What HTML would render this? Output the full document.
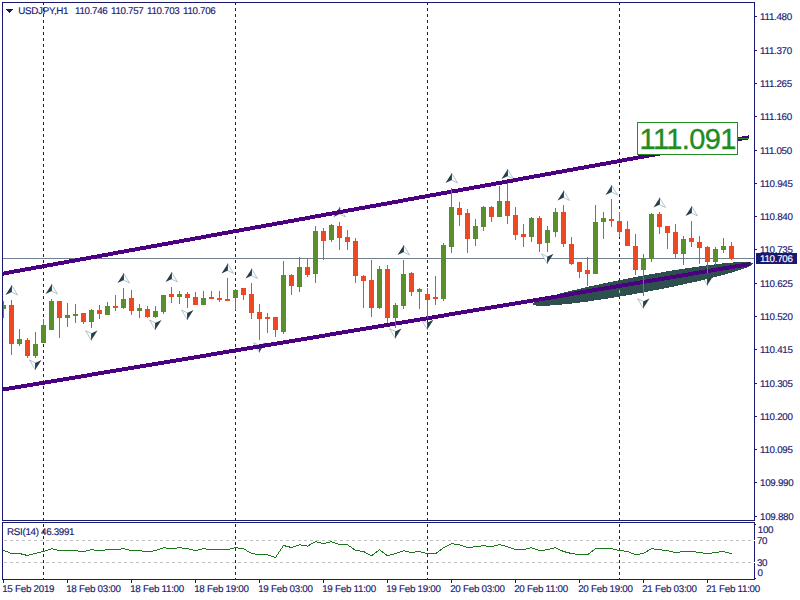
<!DOCTYPE html><html><head><meta charset="utf-8"><title>USDJPY,H1</title><style>
html,body{margin:0;padding:0;background:#fff;}
body{width:800px;height:600px;position:relative;overflow:hidden;font-family:"Liberation Sans",sans-serif;}
.t{position:absolute;white-space:nowrap;font-size:9.8px;line-height:10px;letter-spacing:-0.32px;text-rendering:geometricPrecision;-webkit-text-stroke:0.15px;color:#191970;}
.big{position:absolute;white-space:nowrap;font-size:29px;line-height:29px;color:#228b22;letter-spacing:-0.62px;-webkit-text-stroke:0.35px;}
</style></head><body>
<svg width="800" height="600" viewBox="0 0 800 600" shape-rendering="crispEdges" style="position:absolute;left:0;top:0">
<defs><clipPath id="cm"><rect x="3" y="3" width="751" height="517"/></clipPath>
<clipPath id="cr"><rect x="3" y="523" width="751" height="56"/></clipPath></defs>
<line x1="43.5" y1="2" x2="43.5" y2="520" stroke="#191970" stroke-width="1" stroke-dasharray="3 3"/>
<line x1="43.5" y1="524" x2="43.5" y2="579" stroke="#191970" stroke-width="1" stroke-dasharray="3 3"/>
<line x1="235.5" y1="2" x2="235.5" y2="520" stroke="#191970" stroke-width="1" stroke-dasharray="3 3"/>
<line x1="235.5" y1="524" x2="235.5" y2="579" stroke="#191970" stroke-width="1" stroke-dasharray="3 3"/>
<line x1="427.5" y1="2" x2="427.5" y2="520" stroke="#191970" stroke-width="1" stroke-dasharray="3 3"/>
<line x1="427.5" y1="524" x2="427.5" y2="579" stroke="#191970" stroke-width="1" stroke-dasharray="3 3"/>
<line x1="619.5" y1="2" x2="619.5" y2="520" stroke="#191970" stroke-width="1" stroke-dasharray="3 3"/>
<line x1="619.5" y1="524" x2="619.5" y2="579" stroke="#191970" stroke-width="1" stroke-dasharray="3 3"/>
<rect x="3" y="258" width="751" height="1" fill="#708090"/>
<g shape-rendering="geometricPrecision">
<polygon points="11.5,285 17.5,295 11.5,292" fill="#fff" stroke="#9fb4c8" stroke-width="0.8"/><polygon points="11.9,285 5.5,295 11.9,292" fill="#243f45"/>
<polygon points="51.5,284 57.5,294 51.5,291" fill="#fff" stroke="#9fb4c8" stroke-width="0.8"/><polygon points="51.9,284 45.5,294 51.9,291" fill="#243f45"/>
<polygon points="123.5,273 129.5,283 123.5,280" fill="#fff" stroke="#9fb4c8" stroke-width="0.8"/><polygon points="123.9,273 117.5,283 123.9,280" fill="#243f45"/>
<polygon points="171.5,272 177.5,282 171.5,279" fill="#fff" stroke="#9fb4c8" stroke-width="0.8"/><polygon points="171.9,272 165.5,282 171.9,279" fill="#243f45"/>
<polygon points="227.5,263.4 233.5,273.4 227.5,270.4" fill="#fff" stroke="#9fb4c8" stroke-width="0.8"/><polygon points="227.9,263.4 221.5,273.4 227.9,270.4" fill="#243f45"/>
<polygon points="251.5,268.6 257.5,278.6 251.5,275.6" fill="#fff" stroke="#9fb4c8" stroke-width="0.8"/><polygon points="251.9,268.6 245.5,278.6 251.9,275.6" fill="#243f45"/>
<polygon points="339.5,207 345.5,217 339.5,214" fill="#fff" stroke="#9fb4c8" stroke-width="0.8"/><polygon points="339.9,207 333.5,217 339.9,214" fill="#243f45"/>
<polygon points="403.5,245 409.5,255 403.5,252" fill="#fff" stroke="#9fb4c8" stroke-width="0.8"/><polygon points="403.9,245 397.5,255 403.9,252" fill="#243f45"/>
<polygon points="451.5,173 457.5,183 451.5,180" fill="#fff" stroke="#9fb4c8" stroke-width="0.8"/><polygon points="451.9,173 445.5,183 451.9,180" fill="#243f45"/>
<polygon points="507.5,169 513.5,179 507.5,176" fill="#fff" stroke="#9fb4c8" stroke-width="0.8"/><polygon points="507.9,169 501.5,179 507.9,176" fill="#243f45"/>
<polygon points="563.5,190.5 569.5,200.5 563.5,197.5" fill="#fff" stroke="#9fb4c8" stroke-width="0.8"/><polygon points="563.9,190.5 557.5,200.5 563.9,197.5" fill="#243f45"/>
<polygon points="611.5,185 617.5,195 611.5,192" fill="#fff" stroke="#9fb4c8" stroke-width="0.8"/><polygon points="611.9,185 605.5,195 611.9,192" fill="#243f45"/>
<polygon points="659.5,197.5 665.5,207.5 659.5,204.5" fill="#fff" stroke="#9fb4c8" stroke-width="0.8"/><polygon points="659.9,197.5 653.5,207.5 659.9,204.5" fill="#243f45"/>
<polygon points="691.5,206 697.5,216 691.5,213" fill="#fff" stroke="#9fb4c8" stroke-width="0.8"/><polygon points="691.9,206 685.5,216 691.9,213" fill="#243f45"/>
<polygon points="35.5,370 29.5,360 35.5,363" fill="#fff" stroke="#9fb4c8" stroke-width="0.8"/><polygon points="35.1,370 41.5,360 35.1,363" fill="#243f45"/>
<polygon points="91.5,340.6 85.5,330.6 91.5,333.6" fill="#fff" stroke="#9fb4c8" stroke-width="0.8"/><polygon points="91.1,340.6 97.5,330.6 91.1,333.6" fill="#243f45"/>
<polygon points="155.5,330 149.5,320 155.5,323" fill="#fff" stroke="#9fb4c8" stroke-width="0.8"/><polygon points="155.1,330 161.5,320 155.1,323" fill="#243f45"/>
<polygon points="187.5,320 181.5,310 187.5,313" fill="#fff" stroke="#9fb4c8" stroke-width="0.8"/><polygon points="187.1,320 193.5,310 187.1,313" fill="#243f45"/>
<polygon points="259.5,352.6 253.5,342.6 259.5,345.6" fill="#fff" stroke="#9fb4c8" stroke-width="0.8"/><polygon points="259.1,352.6 265.5,342.6 259.1,345.6" fill="#243f45"/>
<polygon points="395.5,338.6 389.5,328.6 395.5,331.6" fill="#fff" stroke="#9fb4c8" stroke-width="0.8"/><polygon points="395.1,338.6 401.5,328.6 395.1,331.6" fill="#243f45"/>
<polygon points="427.5,329.8 421.5,319.8 427.5,322.8" fill="#fff" stroke="#9fb4c8" stroke-width="0.8"/><polygon points="427.1,329.8 433.5,319.8 427.1,322.8" fill="#243f45"/>
<polygon points="547.5,263.8 541.5,253.8 547.5,256.8" fill="#fff" stroke="#9fb4c8" stroke-width="0.8"/><polygon points="547.1,263.8 553.5,253.8 547.1,256.8" fill="#243f45"/>
<polygon points="643.5,308.6 637.5,298.6 643.5,301.6" fill="#fff" stroke="#9fb4c8" stroke-width="0.8"/><polygon points="643.1,308.6 649.5,298.6 643.1,301.6" fill="#243f45"/>
<polygon points="707.5,285.6 701.5,275.6 707.5,278.6" fill="#fff" stroke="#9fb4c8" stroke-width="0.8"/><polygon points="707.1,285.6 713.5,275.6 707.1,278.6" fill="#243f45"/>
<polygon points="683.5,279.5 677.5,269.5 683.5,272.5" fill="#fff" stroke="#9fb4c8" stroke-width="0.8"/><polygon points="683.1,279.5 689.5,269.5 683.1,272.5" fill="#243f45"/>
</g>
<g clip-path="url(#cm)">
<polygon points="532.5,304.0 534.7,302.0 536.9,300.9 539.1,300.1 541.3,299.2 543.5,298.5 545.7,297.8 547.9,297.1 550.1,296.4 552.3,295.8 554.5,295.1 556.8,294.5 559.0,293.9 561.2,293.3 563.4,292.8 565.6,292.2 567.8,291.6 570.0,291.1 572.2,290.5 574.4,290.0 576.6,289.5 578.8,289.0 581.0,288.4 583.2,287.9 585.4,287.4 587.6,286.9 589.8,286.4 592.0,285.9 594.2,285.4 596.4,285.0 598.6,284.5 600.9,284.0 603.1,283.5 605.3,283.1 607.5,282.6 609.7,282.2 611.9,281.7 614.1,281.3 616.3,280.8 618.5,280.4 620.7,279.9 622.9,279.5 625.1,279.1 627.3,278.6 629.5,278.2 631.7,277.8 633.9,277.3 636.1,276.9 638.3,276.5 640.5,276.1 642.8,275.7 645.0,275.3 647.2,274.9 649.4,274.5 651.6,274.1 653.8,273.7 656.0,273.3 658.2,272.9 660.4,272.6 662.6,272.2 664.8,271.8 667.0,271.4 669.2,271.1 671.4,270.7 673.6,270.3 675.8,270.0 678.0,269.6 680.2,269.3 682.4,268.9 684.6,268.6 686.9,268.2 689.1,267.9 691.3,267.6 693.5,267.3 695.7,266.9 697.9,266.6 700.1,266.3 702.3,266.0 704.5,265.7 706.7,265.4 708.9,265.1 711.1,264.8 713.3,264.6 715.5,264.3 717.7,264.0 719.9,263.8 722.1,263.5 724.3,263.3 726.5,263.1 728.7,262.9 731.0,262.7 733.2,262.5 735.4,262.3 737.6,262.2 739.8,262.0 742.0,261.9 744.2,261.9 746.4,261.9 748.6,262.0 750.8,262.2 753.0,263.4 753.0,263.4 750.8,265.6 748.6,266.7 746.4,267.6 744.2,268.5 742.0,269.3 739.8,270.0 737.6,270.7 735.4,271.4 733.2,272.1 731.0,272.7 728.7,273.4 726.5,274.0 724.3,274.6 722.1,275.2 719.9,275.8 717.7,276.3 715.5,276.9 713.3,277.5 711.1,278.0 708.9,278.6 706.7,279.1 704.5,279.6 702.3,280.1 700.1,280.7 697.9,281.2 695.7,281.7 693.5,282.2 691.3,282.7 689.1,283.2 686.9,283.6 684.6,284.1 682.4,284.6 680.2,285.1 678.0,285.5 675.8,286.0 673.6,286.5 671.4,286.9 669.2,287.4 667.0,287.8 664.8,288.3 662.6,288.7 660.4,289.1 658.2,289.6 656.0,290.0 653.8,290.4 651.6,290.8 649.4,291.3 647.2,291.7 645.0,292.1 642.8,292.5 640.5,292.9 638.3,293.3 636.1,293.7 633.9,294.1 631.7,294.5 629.5,294.9 627.3,295.3 625.1,295.6 622.9,296.0 620.7,296.4 618.5,296.8 616.3,297.1 614.1,297.5 611.9,297.8 609.7,298.2 607.5,298.5 605.3,298.9 603.1,299.2 600.9,299.6 598.6,299.9 596.4,300.2 594.2,300.5 592.0,300.9 589.8,301.2 587.6,301.5 585.4,301.8 583.2,302.1 581.0,302.4 578.8,302.6 576.6,302.9 574.4,303.2 572.2,303.5 570.0,303.7 567.8,304.0 565.6,304.2 563.4,304.4 561.2,304.6 559.0,304.8 556.8,305.0 554.5,305.2 552.3,305.4 550.1,305.5 547.9,305.6 545.7,305.7 543.5,305.8 541.3,305.8 539.1,305.8 536.9,305.7 534.7,305.3 532.5,304.0" fill="#2f4f4f"/>
<polygon points="3,271.6 749,135.3 749,139.3 3,275.6" fill="#4b0082"/>
<polygon points="3,387.55 750,262.0 750,266.0 3,391.55" fill="#4b0082"/>
<rect x="619" y="290" width="1" height="3" fill="#d8b0c0"/>
<rect x="3" y="301" width="1" height="17" fill="#588f2c"/>
<rect x="1" y="305" width="5" height="4" fill="#588f2c"/>
<rect x="11" y="300" width="1" height="55" fill="#ee4822"/>
<rect x="9" y="305" width="5" height="39" fill="#ee4822"/>
<rect x="19" y="329" width="1" height="17" fill="#588f2c"/>
<rect x="17" y="339" width="5" height="5" fill="#588f2c"/>
<rect x="27" y="338" width="1" height="20" fill="#ee4822"/>
<rect x="25" y="340" width="5" height="16" fill="#ee4822"/>
<rect x="35" y="332" width="1" height="26" fill="#588f2c"/>
<rect x="33" y="344" width="5" height="12" fill="#588f2c"/>
<rect x="43" y="319" width="1" height="24" fill="#588f2c"/>
<rect x="41" y="325" width="5" height="18" fill="#588f2c"/>
<rect x="51" y="299" width="1" height="31" fill="#588f2c"/>
<rect x="49" y="301" width="5" height="29" fill="#588f2c"/>
<rect x="59" y="301" width="1" height="37" fill="#ee4822"/>
<rect x="57" y="301" width="5" height="17" fill="#ee4822"/>
<rect x="67" y="303" width="1" height="24" fill="#588f2c"/>
<rect x="65" y="315" width="5" height="3" fill="#588f2c"/>
<rect x="75" y="304" width="1" height="19" fill="#588f2c"/>
<rect x="73" y="314" width="5" height="2" fill="#588f2c"/>
<rect x="83" y="313" width="1" height="11" fill="#ee4822"/>
<rect x="81" y="313" width="5" height="9" fill="#ee4822"/>
<rect x="91" y="309" width="1" height="19" fill="#588f2c"/>
<rect x="89" y="310" width="5" height="12" fill="#588f2c"/>
<rect x="99" y="305" width="1" height="14" fill="#ee4822"/>
<rect x="97" y="310" width="5" height="4" fill="#ee4822"/>
<rect x="107" y="302" width="1" height="13" fill="#588f2c"/>
<rect x="105" y="306" width="5" height="9" fill="#588f2c"/>
<rect x="115" y="295" width="1" height="16" fill="#ee4822"/>
<rect x="113" y="306" width="5" height="2" fill="#ee4822"/>
<rect x="123" y="288" width="1" height="21" fill="#588f2c"/>
<rect x="121" y="299" width="5" height="9" fill="#588f2c"/>
<rect x="131" y="290" width="1" height="25" fill="#ee4822"/>
<rect x="129" y="298" width="5" height="13" fill="#ee4822"/>
<rect x="139" y="304" width="1" height="14" fill="#588f2c"/>
<rect x="137" y="308" width="5" height="3" fill="#588f2c"/>
<rect x="147" y="306" width="1" height="12" fill="#ee4822"/>
<rect x="145" y="309" width="5" height="8" fill="#ee4822"/>
<rect x="155" y="306" width="1" height="12" fill="#588f2c"/>
<rect x="153" y="311" width="5" height="6" fill="#588f2c"/>
<rect x="163" y="295" width="1" height="19" fill="#588f2c"/>
<rect x="161" y="295" width="5" height="17" fill="#588f2c"/>
<rect x="171" y="287" width="1" height="16" fill="#ee4822"/>
<rect x="169" y="294" width="5" height="3" fill="#ee4822"/>
<rect x="179" y="291" width="1" height="13" fill="#588f2c"/>
<rect x="177" y="294" width="5" height="3" fill="#588f2c"/>
<rect x="187" y="292" width="1" height="16" fill="#ee4822"/>
<rect x="185" y="294" width="5" height="4" fill="#ee4822"/>
<rect x="195" y="292" width="1" height="13" fill="#ee4822"/>
<rect x="193" y="297" width="5" height="8" fill="#ee4822"/>
<rect x="203" y="291" width="1" height="14" fill="#588f2c"/>
<rect x="201" y="298" width="5" height="7" fill="#588f2c"/>
<rect x="211" y="291" width="1" height="8" fill="#ee4822"/>
<rect x="209" y="297" width="5" height="2" fill="#ee4822"/>
<rect x="219" y="291" width="1" height="11" fill="#ee4822"/>
<rect x="217" y="298" width="5" height="2" fill="#ee4822"/>
<rect x="227" y="278" width="1" height="23" fill="#ee4822"/>
<rect x="225" y="299" width="5" height="2" fill="#ee4822"/>
<rect x="235" y="289" width="1" height="21" fill="#588f2c"/>
<rect x="233" y="290" width="5" height="8" fill="#588f2c"/>
<rect x="243" y="288" width="1" height="12" fill="#ee4822"/>
<rect x="241" y="288" width="5" height="7" fill="#ee4822"/>
<rect x="251" y="283" width="1" height="36" fill="#ee4822"/>
<rect x="249" y="294" width="5" height="19" fill="#ee4822"/>
<rect x="259" y="304" width="1" height="36" fill="#ee4822"/>
<rect x="257" y="312" width="5" height="7" fill="#ee4822"/>
<rect x="267" y="313" width="1" height="20" fill="#ee4822"/>
<rect x="265" y="317" width="5" height="2" fill="#ee4822"/>
<rect x="275" y="317" width="1" height="20" fill="#ee4822"/>
<rect x="273" y="317" width="5" height="13" fill="#ee4822"/>
<rect x="283" y="261" width="1" height="73" fill="#588f2c"/>
<rect x="281" y="275" width="5" height="57" fill="#588f2c"/>
<rect x="291" y="274" width="1" height="21" fill="#ee4822"/>
<rect x="289" y="275" width="5" height="11" fill="#ee4822"/>
<rect x="299" y="257" width="1" height="35" fill="#588f2c"/>
<rect x="297" y="267" width="5" height="20" fill="#588f2c"/>
<rect x="307" y="259" width="1" height="18" fill="#ee4822"/>
<rect x="305" y="267" width="5" height="8" fill="#ee4822"/>
<rect x="315" y="226" width="1" height="57" fill="#588f2c"/>
<rect x="313" y="231" width="5" height="43" fill="#588f2c"/>
<rect x="323" y="228" width="1" height="32" fill="#ee4822"/>
<rect x="321" y="231" width="5" height="10" fill="#ee4822"/>
<rect x="331" y="224" width="1" height="18" fill="#588f2c"/>
<rect x="329" y="225" width="5" height="15" fill="#588f2c"/>
<rect x="339" y="222" width="1" height="28" fill="#ee4822"/>
<rect x="337" y="226" width="5" height="12" fill="#ee4822"/>
<rect x="347" y="230" width="1" height="20" fill="#ee4822"/>
<rect x="345" y="237" width="5" height="5" fill="#ee4822"/>
<rect x="355" y="238" width="1" height="45" fill="#ee4822"/>
<rect x="353" y="241" width="5" height="35" fill="#ee4822"/>
<rect x="363" y="275" width="1" height="33" fill="#ee4822"/>
<rect x="361" y="276" width="5" height="5" fill="#ee4822"/>
<rect x="371" y="260" width="1" height="57" fill="#ee4822"/>
<rect x="369" y="280" width="5" height="28" fill="#ee4822"/>
<rect x="379" y="266" width="1" height="43" fill="#588f2c"/>
<rect x="377" y="269" width="5" height="39" fill="#588f2c"/>
<rect x="387" y="265" width="1" height="58" fill="#ee4822"/>
<rect x="385" y="269" width="5" height="49" fill="#ee4822"/>
<rect x="395" y="303" width="1" height="25" fill="#588f2c"/>
<rect x="393" y="305" width="5" height="13" fill="#588f2c"/>
<rect x="403" y="260" width="1" height="49" fill="#588f2c"/>
<rect x="401" y="274" width="5" height="32" fill="#588f2c"/>
<rect x="411" y="272" width="1" height="24" fill="#ee4822"/>
<rect x="409" y="273" width="5" height="19" fill="#ee4822"/>
<rect x="419" y="288" width="1" height="21" fill="#588f2c"/>
<rect x="417" y="289" width="5" height="3" fill="#588f2c"/>
<rect x="427" y="288" width="1" height="30" fill="#ee4822"/>
<rect x="425" y="294" width="5" height="6" fill="#ee4822"/>
<rect x="435" y="276" width="1" height="29" fill="#ee4822"/>
<rect x="433" y="297" width="5" height="2" fill="#ee4822"/>
<rect x="443" y="243" width="1" height="58" fill="#588f2c"/>
<rect x="441" y="245" width="5" height="54" fill="#588f2c"/>
<rect x="451" y="188" width="1" height="65" fill="#588f2c"/>
<rect x="449" y="207" width="5" height="40" fill="#588f2c"/>
<rect x="459" y="202" width="1" height="24" fill="#ee4822"/>
<rect x="457" y="208" width="5" height="7" fill="#ee4822"/>
<rect x="467" y="209" width="1" height="44" fill="#ee4822"/>
<rect x="465" y="213" width="5" height="26" fill="#ee4822"/>
<rect x="475" y="219" width="1" height="27" fill="#588f2c"/>
<rect x="473" y="226" width="5" height="13" fill="#588f2c"/>
<rect x="483" y="206" width="1" height="25" fill="#588f2c"/>
<rect x="481" y="207" width="5" height="20" fill="#588f2c"/>
<rect x="491" y="206" width="1" height="16" fill="#ee4822"/>
<rect x="489" y="207" width="5" height="10" fill="#ee4822"/>
<rect x="499" y="186" width="1" height="31" fill="#588f2c"/>
<rect x="497" y="201" width="5" height="16" fill="#588f2c"/>
<rect x="507" y="183" width="1" height="41" fill="#ee4822"/>
<rect x="505" y="201" width="5" height="15" fill="#ee4822"/>
<rect x="515" y="207" width="1" height="33" fill="#ee4822"/>
<rect x="513" y="215" width="5" height="20" fill="#ee4822"/>
<rect x="523" y="224" width="1" height="23" fill="#ee4822"/>
<rect x="521" y="234" width="5" height="3" fill="#ee4822"/>
<rect x="531" y="217" width="1" height="25" fill="#588f2c"/>
<rect x="529" y="218" width="5" height="19" fill="#588f2c"/>
<rect x="539" y="216" width="1" height="36" fill="#ee4822"/>
<rect x="537" y="218" width="5" height="26" fill="#ee4822"/>
<rect x="547" y="226" width="1" height="26" fill="#588f2c"/>
<rect x="545" y="230" width="5" height="13" fill="#588f2c"/>
<rect x="555" y="208" width="1" height="29" fill="#588f2c"/>
<rect x="553" y="212" width="5" height="20" fill="#588f2c"/>
<rect x="563" y="205" width="1" height="42" fill="#ee4822"/>
<rect x="561" y="212" width="5" height="32" fill="#ee4822"/>
<rect x="571" y="237" width="1" height="28" fill="#ee4822"/>
<rect x="569" y="244" width="5" height="20" fill="#ee4822"/>
<rect x="579" y="262" width="1" height="16" fill="#ee4822"/>
<rect x="577" y="262" width="5" height="10" fill="#ee4822"/>
<rect x="587" y="257" width="1" height="29" fill="#ee4822"/>
<rect x="585" y="270" width="5" height="4" fill="#ee4822"/>
<rect x="595" y="205" width="1" height="69" fill="#588f2c"/>
<rect x="593" y="222" width="5" height="52" fill="#588f2c"/>
<rect x="603" y="212" width="1" height="27" fill="#588f2c"/>
<rect x="601" y="218" width="5" height="4" fill="#588f2c"/>
<rect x="611" y="199" width="1" height="28" fill="#ee4822"/>
<rect x="609" y="219" width="5" height="2" fill="#ee4822"/>
<rect x="619" y="212" width="1" height="25" fill="#ee4822"/>
<rect x="617" y="221" width="5" height="11" fill="#ee4822"/>
<rect x="627" y="221" width="1" height="25" fill="#ee4822"/>
<rect x="625" y="229" width="5" height="17" fill="#ee4822"/>
<rect x="635" y="234" width="1" height="41" fill="#ee4822"/>
<rect x="633" y="246" width="5" height="24" fill="#ee4822"/>
<rect x="643" y="254" width="1" height="42" fill="#588f2c"/>
<rect x="641" y="258" width="5" height="12" fill="#588f2c"/>
<rect x="651" y="213" width="1" height="49" fill="#588f2c"/>
<rect x="649" y="214" width="5" height="45" fill="#588f2c"/>
<rect x="659" y="212" width="1" height="22" fill="#ee4822"/>
<rect x="657" y="214" width="5" height="13" fill="#ee4822"/>
<rect x="667" y="226" width="1" height="23" fill="#ee4822"/>
<rect x="665" y="226" width="5" height="7" fill="#ee4822"/>
<rect x="675" y="224" width="1" height="34" fill="#ee4822"/>
<rect x="673" y="232" width="5" height="22" fill="#ee4822"/>
<rect x="683" y="236" width="1" height="29" fill="#588f2c"/>
<rect x="681" y="239" width="5" height="15" fill="#588f2c"/>
<rect x="691" y="221" width="1" height="26" fill="#ee4822"/>
<rect x="689" y="238" width="5" height="4" fill="#ee4822"/>
<rect x="699" y="236" width="1" height="28" fill="#ee4822"/>
<rect x="697" y="242" width="5" height="6" fill="#ee4822"/>
<rect x="707" y="246" width="1" height="27" fill="#ee4822"/>
<rect x="705" y="247" width="5" height="15" fill="#ee4822"/>
<rect x="715" y="247" width="1" height="18" fill="#588f2c"/>
<rect x="713" y="249" width="5" height="13" fill="#588f2c"/>
<rect x="723" y="238" width="1" height="15" fill="#588f2c"/>
<rect x="721" y="246" width="5" height="4" fill="#588f2c"/>
<rect x="731" y="242" width="1" height="18" fill="#ee4822"/>
<rect x="729" y="246" width="5" height="13" fill="#ee4822"/>
</g>
<line x1="4" y1="540.5" x2="754" y2="540.5" stroke="#c0c0c0" stroke-width="1" stroke-dasharray="3 3"/>
<line x1="4" y1="562.5" x2="754" y2="562.5" stroke="#c0c0c0" stroke-width="1" stroke-dasharray="3 3"/>
<polyline points="3.5,550.3 11.5,553.5 19.5,553.5 27.5,555.5 35.5,553.3 43.5,551.5 51.5,548.6999999999999 59.5,550.6999999999999 67.5,550.6999999999999 75.5,550.6999999999999 83.5,551.6999999999999 91.5,549.6999999999999 99.5,550.6999999999999 107.5,549.6999999999999 115.5,549.6999999999999 123.5,548.6999999999999 131.5,550.5 139.5,550.6999999999999 147.5,551.6999999999999 155.5,550.6999999999999 163.5,547.6999999999999 171.5,548.6999999999999 179.5,547.6999999999999 187.5,548.6999999999999 195.5,550.6999999999999 203.5,548.6999999999999 211.5,549.6999999999999 219.5,549.6999999999999 227.5,549.6999999999999 235.5,547.6999999999999 243.5,548.6999999999999 251.5,553.5 259.5,554.6999999999999 267.5,554.6999999999999 275.5,557.5 283.5,545.5 291.5,547.5 299.5,544.6999999999999 307.5,546.0999999999999 315.5,541.6999999999999 323.5,543.6999999999999 331.5,541.6999999999999 339.5,544.6999999999999 347.5,544.6999999999999 355.5,550.5 363.5,551.5 371.5,555.6999999999999 379.5,549.6999999999999 387.5,555.6999999999999 395.5,553.6999999999999 403.5,550.6999999999999 411.5,552.5 419.5,551.5 427.5,553.6999999999999 435.5,553.6999999999999 443.5,547.6999999999999 451.5,543.6999999999999 459.5,544.6999999999999 467.5,547.6999999999999 475.5,546.6999999999999 483.5,545.6999999999999 491.5,546.6999999999999 499.5,544.6999999999999 507.5,546.6999999999999 515.5,549.6999999999999 523.5,549.6999999999999 531.5,547.6999999999999 539.5,550.6999999999999 547.5,549.6999999999999 555.5,547.6999999999999 563.5,551.5 571.5,553.5 579.5,554.6999999999999 587.5,554.6999999999999 595.5,548.6999999999999 603.5,548.6999999999999 611.5,548.6999999999999 619.5,550.5 627.5,551.5 635.5,554.6999999999999 643.5,553.5 651.5,548.6999999999999 659.5,549.6999999999999 667.5,550.6999999999999 675.5,552.6999999999999 683.5,551.5 691.5,551.5 699.5,552.5 707.5,553.6999999999999 715.5,552.5 723.5,551.5 731.5,553.6999999999999" fill="none" stroke="#1a781a" stroke-width="1" shape-rendering="crispEdges" clip-path="url(#cr)"/>
<rect x="2" y="2" width="753" height="1" fill="#191970"/>
<rect x="2" y="520" width="753" height="1" fill="#191970"/>
<rect x="2" y="2" width="1" height="519" fill="#191970"/>
<rect x="754" y="2" width="1" height="519" fill="#191970"/>
<rect x="2" y="522" width="753" height="1" fill="#191970"/>
<rect x="2" y="579" width="753" height="1" fill="#191970"/>
<rect x="2" y="522" width="1" height="58" fill="#191970"/>
<rect x="754" y="522" width="1" height="58" fill="#191970"/>
<rect x="755" y="16" width="2" height="1" fill="#191970"/>
<rect x="755" y="50" width="2" height="1" fill="#191970"/>
<rect x="755" y="83" width="2" height="1" fill="#191970"/>
<rect x="755" y="116" width="2" height="1" fill="#191970"/>
<rect x="755" y="150" width="2" height="1" fill="#191970"/>
<rect x="755" y="183" width="2" height="1" fill="#191970"/>
<rect x="755" y="216" width="2" height="1" fill="#191970"/>
<rect x="755" y="249" width="2" height="1" fill="#191970"/>
<rect x="755" y="283" width="2" height="1" fill="#191970"/>
<rect x="755" y="316" width="2" height="1" fill="#191970"/>
<rect x="755" y="349" width="2" height="1" fill="#191970"/>
<rect x="755" y="383" width="2" height="1" fill="#191970"/>
<rect x="755" y="416" width="2" height="1" fill="#191970"/>
<rect x="755" y="449" width="2" height="1" fill="#191970"/>
<rect x="755" y="482" width="2" height="1" fill="#191970"/>
<rect x="755" y="516" width="2" height="1" fill="#191970"/>
<rect x="755" y="524" width="1" height="1" fill="#191970"/>
<rect x="755" y="578" width="1" height="1" fill="#191970"/>
<rect x="754" y="540" width="1" height="1" fill="#fff"/>
<rect x="754" y="562" width="1" height="1" fill="#fff"/>
<rect x="3" y="580" width="1" height="3" fill="#191970"/>
<rect x="67" y="580" width="1" height="3" fill="#191970"/>
<rect x="131" y="580" width="1" height="3" fill="#191970"/>
<rect x="195" y="580" width="1" height="3" fill="#191970"/>
<rect x="259" y="580" width="1" height="3" fill="#191970"/>
<rect x="323" y="580" width="1" height="3" fill="#191970"/>
<rect x="387" y="580" width="1" height="3" fill="#191970"/>
<rect x="451" y="580" width="1" height="3" fill="#191970"/>
<rect x="515" y="580" width="1" height="3" fill="#191970"/>
<rect x="579" y="580" width="1" height="3" fill="#191970"/>
<rect x="643" y="580" width="1" height="3" fill="#191970"/>
<rect x="707" y="580" width="1" height="3" fill="#191970"/>
<path d="M6 9h7v1h-1v1h-1v1h-1v1h-1v-1h-1v-1h-1v-1h-1z" fill="#191970"/>
<rect x="756" y="253" width="41" height="11" fill="#191970"/>
<rect x="738" y="138" width="11" height="1" fill="#2e8b2e"/>
<rect x="637.5" y="122.5" width="100" height="32" fill="#fff" stroke="#228b22" stroke-width="1"/>
</svg>
<div class="t" style="left:760.1px;top:13px;">111.480</div>
<div class="t" style="left:760.1px;top:47px;">111.370</div>
<div class="t" style="left:760.1px;top:80px;">111.265</div>
<div class="t" style="left:760.1px;top:113px;">111.160</div>
<div class="t" style="left:760.1px;top:147px;">111.050</div>
<div class="t" style="left:760.1px;top:180px;">110.945</div>
<div class="t" style="left:760.1px;top:213px;">110.840</div>
<div class="t" style="left:760.1px;top:246px;">110.735</div>
<div class="t" style="left:760.1px;top:280px;">110.625</div>
<div class="t" style="left:760.1px;top:313px;">110.520</div>
<div class="t" style="left:760.1px;top:346px;">110.415</div>
<div class="t" style="left:760.1px;top:380px;">110.305</div>
<div class="t" style="left:760.1px;top:413px;">110.200</div>
<div class="t" style="left:760.1px;top:446px;">110.095</div>
<div class="t" style="left:760.1px;top:479px;">109.990</div>
<div class="t" style="left:760.1px;top:513px;">109.880</div>
<div class="t" style="left:760.1px;top:255px;color:#fff;">110.706</div>
<div class="t" style="left:757.8px;top:526px;">100</div>
<div class="t" style="left:756.9px;top:537px;">70</div>
<div class="t" style="left:756.9px;top:559px;">30</div>
<div class="t" style="left:757.6px;top:569px;">0</div>
<div class="t" style="left:2.2px;top:585px;letter-spacing:-0.27px;">15 Feb 2019</div>
<div class="t" style="left:66.2px;top:585px;letter-spacing:-0.27px;">18 Feb 03:00</div>
<div class="t" style="left:130.2px;top:585px;letter-spacing:-0.27px;">18 Feb 11:00</div>
<div class="t" style="left:194.2px;top:585px;letter-spacing:-0.27px;">18 Feb 19:00</div>
<div class="t" style="left:258.2px;top:585px;letter-spacing:-0.27px;">19 Feb 03:00</div>
<div class="t" style="left:322.2px;top:585px;letter-spacing:-0.27px;">19 Feb 11:00</div>
<div class="t" style="left:386.2px;top:585px;letter-spacing:-0.27px;">19 Feb 19:00</div>
<div class="t" style="left:450.2px;top:585px;letter-spacing:-0.27px;">20 Feb 03:00</div>
<div class="t" style="left:514.2px;top:585px;letter-spacing:-0.27px;">20 Feb 11:00</div>
<div class="t" style="left:578.2px;top:585px;letter-spacing:-0.27px;">20 Feb 19:00</div>
<div class="t" style="left:642.2px;top:585px;letter-spacing:-0.27px;">21 Feb 03:00</div>
<div class="t" style="left:706.2px;top:585px;letter-spacing:-0.27px;">21 Feb 11:00</div>
<div class="t" style="left:7.1px;top:528px;letter-spacing:-0.32px;">RSI(14) 46.3991</div>
<div class="t" style="left:18.3px;top:7px;letter-spacing:-0.3px;">USDJPY,H1</div>
<div class="t" style="left:75.0px;top:7px;">110.746</div>
<div class="t" style="left:111.0px;top:7px;">110.757</div>
<div class="t" style="left:147.0px;top:7px;">110.703</div>
<div class="t" style="left:183.0px;top:7px;">110.706</div>
<div class="big" style="left:639.6px;top:124.5px;">111.091</div>
</body></html>
